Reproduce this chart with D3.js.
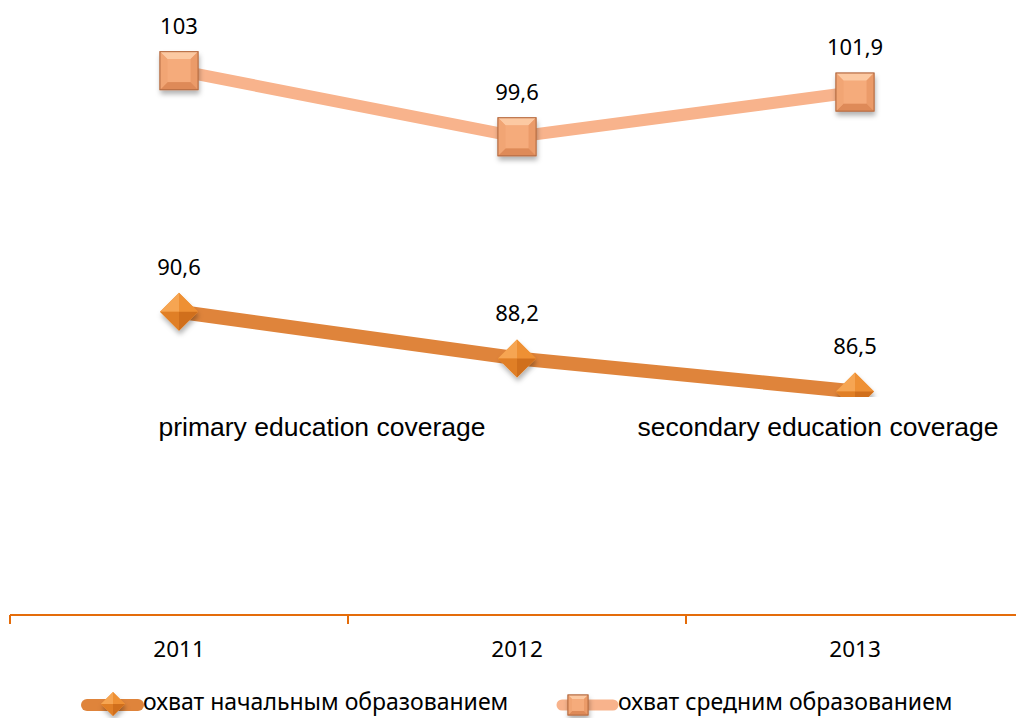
<!DOCTYPE html>
<html>
<head>
<meta charset="utf-8">
<script src="https://cdn.jsdelivr.net/npm/d3@7"></script>
<style>
  body { margin: 0; background: #fff; }
  svg { display: block; }
</style>
</head>
<body>
<div id="chart"></div>
<script>
// data
var years = ["2011", "2012", "2013"];
var primary = [90.6, 88.2, 86.5];
var secondary = [103, 99.6, 101.9];
var seriesNames = ["охват начальным образованием", "охват средним образованием"];
var notes = ["primary education coverage", "secondary education coverage"];

var W = 1016, H = 718;
var font = "'Noto Sans', 'DejaVu Sans', sans-serif";

var svg = d3.select("#chart").append("svg")
    .attr("width", W)
    .attr("height", H);

var defs = svg.append("defs");

var shadow = defs.append("filter").attr("id", "shd")
    .attr("x", "-50%").attr("y", "-50%").attr("width", "200%").attr("height", "200%");
shadow.append("feDropShadow").attr("dx", 1).attr("dy", 4).attr("stdDeviation", 2.5)
    .attr("flood-color", "#000").attr("flood-opacity", 0.3);

// scales
var x = d3.scaleBand()
    .domain(years)
    .range([10, 1024]);

var y = d3.scaleLinear()
    .domain([75, 110])
    .range([615, 615 - 35 * 19.44]);

var cx = function(d, i) { return x(years[i]) + x.bandwidth() / 2; };

// axis
var xAxis = svg.append("g")
    .attr("transform", "translate(0,615)")
    .call(d3.axisBottom(x).tickSize(0).tickPadding(26));
xAxis.select(".domain").attr("stroke", "#e46c0a").attr("stroke-width", 2)
    .attr("d", "M10,0H1024");
xAxis.selectAll("text")
    .attr("font-family", font)
    .attr("font-size", 22.5)
    .attr("fill", "#000");
svg.append("g").selectAll("line")
    .data(years)
    .enter().append("line")
    .attr("x1", d => x(d)).attr("x2", d => x(d))
    .attr("y1", 615).attr("y2", 624)
    .attr("stroke", "#e46c0a").attr("stroke-width", 2);

var line = d3.line()
    .x(cx)
    .y(d => y(d));

// secondary series
svg.append("path")
    .datum(secondary)
    .attr("d", line)
    .attr("fill", "none")
    .attr("stroke", "#f8b38c")
    .attr("stroke-width", 12);

// primary series
svg.append("path")
    .datum(primary)
    .attr("d", line)
    .attr("fill", "none")
    .attr("stroke", "#df843b")
    .attr("stroke-width", 14);

function pts(a) { return a.map(p => p.join(",")).join(" "); }

// beveled square marker
function drawSquare(g, px, py, s) {
    var h = s / 2, b = s * 0.2;
    var o = [[px - h, py - h], [px + h, py - h], [px + h, py + h], [px - h, py + h]];
    var n = [[px - h + b, py - h + b], [px + h - b, py - h + b], [px + h - b, py + h - b], [px - h + b, py + h - b]];
    var m = g.append("g");
    m.append("rect")
        .attr("x", px - h).attr("y", py - h)
        .attr("width", s).attr("height", s)
        .attr("fill", "#f2a676")
        .attr("stroke", "#b86e45").attr("stroke-width", 1)
        .attr("filter", "url(#shd)");
    m.append("polygon").attr("points", pts([o[0], o[1], n[1], n[0]])).attr("fill", "#fcc9a2");
    m.append("polygon").attr("points", pts([o[1], o[2], n[2], n[1]])).attr("fill", "#eb9b69");
    m.append("polygon").attr("points", pts([o[2], o[3], n[3], n[2]])).attr("fill", "#de8a58");
    m.append("polygon").attr("points", pts([o[3], o[0], n[0], n[3]])).attr("fill", "#f1a574");
    m.append("polygon").attr("points", pts(n)).attr("fill", "#f5ab7b");
    m.append("rect")
        .attr("x", px - h).attr("y", py - h)
        .attr("width", s).attr("height", s)
        .attr("fill", "none")
        .attr("stroke", "#b86e45").attr("stroke-width", 1);
}

// diamond marker
function drawDiamond(g, px, py, s) {
    var h = s / 2;
    var m = g.append("g");
    m.append("polygon")
        .attr("points", pts([[px, py - h], [px + h, py], [px, py + h], [px - h, py]]))
        .attr("fill", "#ef9239")
        .attr("filter", "url(#shd)");
    m.append("polygon").attr("points", pts([[px - h, py], [px, py - h], [px, py]])).attr("fill", "#f6a552");
    m.append("polygon").attr("points", pts([[px, py - h], [px + h, py], [px, py]])).attr("fill", "#ee9034");
    m.append("polygon").attr("points", pts([[px - h, py], [px, py + h], [px, py]])).attr("fill", "#e07f26");
    m.append("polygon").attr("points", pts([[px + h, py], [px, py + h], [px, py]])).attr("fill", "#d06f1c");
}

var mk = svg.append("g");
secondary.forEach(function(v, i) { drawSquare(mk, cx(v, i), y(v), 38); });
primary.forEach(function(v, i) { drawDiamond(mk, cx(v, i), y(v), 38); });

// value labels
var fmt = function(v) { return String(v).replace(".", ","); };
[secondary, primary].forEach(function(ser) {
    svg.append("g").selectAll("text")
        .data(ser)
        .enter().append("text")
        .attr("x", cx)
        .attr("y", d => y(d) - 37)
        .attr("text-anchor", "middle")
        .attr("font-family", font)
        .attr("font-size", 22)
        .attr("fill", "#000")
        .text(fmt);
});

// note boxes (white background, cover the plot)
var noteX = [322, 818];
svg.append("rect")
    .attr("x", 0).attr("y", 397).attr("width", W).attr("height", 56)
    .attr("fill", "#fff");
svg.append("g").selectAll("text")
    .data(notes)
    .enter().append("text")
    .attr("x", (d, i) => noteX[i])
    .attr("y", 436)
    .attr("text-anchor", "middle")
    .attr("font-family", "'Liberation Sans', Arial, sans-serif")
    .attr("font-size", 26.5)
    .attr("fill", "#000")
    .text(d => d);

// legend
var leg = svg.append("g");
var legX = [82, 557];
var legY = 705;
[0, 1].forEach(function(i) {
    var lx = legX[i];
    leg.append("line")
        .attr("x1", lx + 5).attr("x2", lx + 56)
        .attr("y1", legY).attr("y2", legY)
        .attr("stroke", i === 0 ? "#df843b" : "#f8b38c")
        .attr("stroke-width", i === 0 ? 12 : 11)
        .attr("stroke-linecap", "round");
    if (i === 0) drawDiamond(leg, lx + 31, legY - 1, 24);
    else drawSquare(leg, lx + 21, legY, 20);
    leg.append("text")
        .attr("x", lx + 61)
        .attr("y", legY + 5)
        .attr("font-family", font)
        .attr("font-size", 23)
        .attr("fill", "#000")
        .text(seriesNames[i]);
});
</script>
</body>
</html>
